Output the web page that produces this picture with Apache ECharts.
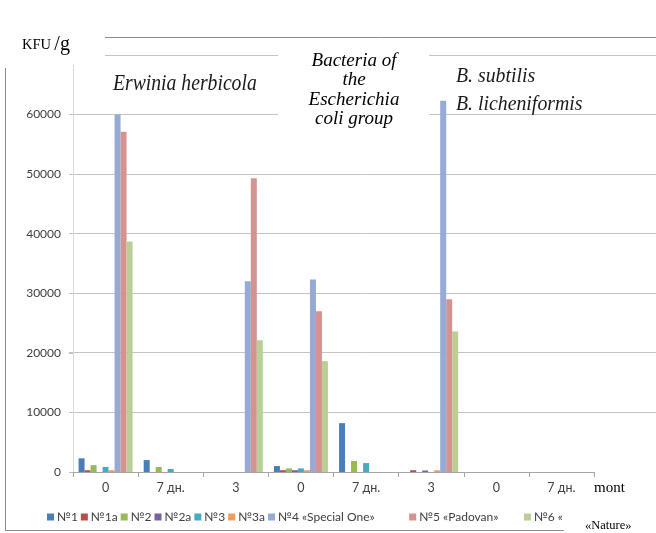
<!DOCTYPE html>
<html>
<head>
<meta charset="utf-8">
<script src="https://cdn.jsdelivr.net/npm/echarts@6/dist/echarts.min.js"></script>
<style>
  html, body { margin: 0; padding: 0; background: #fff; }
  #chart { width: 656px; height: 533px; }
</style>
</head>
<body>
<div id="chart"></div>
<script>
// categories on the x axis
const categories = ['0', '7 дн.', '3', '0', '7 дн.', '3', '0', '7 дн.']
const yTicks = [0, 10000, 20000, 30000, 40000, 50000, 60000, 70000]

// values, KFU/g
const names = ['№1', '№1a', '№2', '№2a', '№3', '№3a', '№4 «Special One»', '№5 «Padovan»', '№6 «Nature»']
const s1 = [2300, 2000, 0, 1000, 8200, 0, 0, 0]
const s1a = [300, 0, 0, 300, 0, 300, 0, 0]
const s2 = [1150, 850, 0, 600, 1850, 0, 0, 0]
const s2a = [0, 0, 0, 300, 0, 250, 0, 0]
const s3 = [850, 500, 0, 600, 1500, 0, 0, 0]
const s3a = [300, 0, 0, 300, 0, 300, 0, 0]
const s4 = [60000, 0, 32000, 32300, 0, 62300, 0, 0]
const s5 = [57100, 0, 49300, 27000, 0, 29000, 0, 0]
const s6 = [38700, 0, 22100, 18600, 0, 23600, 0, 0]

const values = [s1, s1a, s2, s2a, s3, s3a, s4, s5, s6]
const colors = ['#4A7EBB', '#BE4B48', '#98B954', '#7D60A0', '#46AAC5', '#F59D56', '#95AAD4', '#D39491', '#B9CF94']

const chart = echarts.init(document.getElementById('chart'))

const serif = '"Liberation Serif", "DejaVu Serif", serif'
const sans = 'Lato, "Open Sans", sans-serif'

const option = {
  animation: false,
  color: colors,
  grid: [
    // main plot
    { left: 73, right: 62, top: 55, bottom: 61 },
    // gridlines only, they run to the right edge
    { left: 69, right: 0, top: 55, bottom: 121 }
  ],
  legend: {
    bottom: 5,
    left: 42,
    itemWidth: 7,
    itemHeight: 7,
    itemGap: 3,
    icon: 'rect',
    textStyle: { fontFamily: sans, fontSize: 12, color: '#404040', padding: [0, 0, 0, -2] },
    formatter: function (n) {
      // the long names are spaced wider in the original
      if (n === '№4 «Special One»') return n + '\u2003\u2003\u2002\u2002\u2009'
      if (n === '№5 «Padovan»') return n + '\u2003\u2002\u2002\u2009'
      if (n === '№6 «Nature»') return '№6 «'
      return n
    },
    data: names
  },
  xAxis: [
    {
      type: 'category',
      data: categories,
      gridIndex: 0,
      name: 'mont',
      nameLocation: 'end',
      nameGap: 0,
      nameTextStyle: {
        fontFamily: serif, fontSize: 15, color: '#000',
        verticalAlign: 'top', padding: [9, 0, 0, 0]
      },
      axisLine: { lineStyle: { color: '#A6A6A6', width: 1 } },
      axisTick: { show: true, length: 5, lineStyle: { color: '#A6A6A6' } },
      axisLabel: { fontFamily: sans, fontSize: 12.5, color: '#404040', margin: 9 }
    },
    { type: 'value', gridIndex: 1, show: false, min: 0, max: 1 }
  ],
  yAxis: [
    {
      type: 'value',
      gridIndex: 0,
      min: yTicks[0],
      max: yTicks[yTicks.length - 1],
      interval: 10000,
      axisLine: { show: true, lineStyle: { color: '#D9D9D9' } },
      axisTick: { show: true, length: 4, lineStyle: { color: '#BFBFBF' } },
      splitLine: { show: false },
      axisLabel: {
        fontFamily: sans, fontSize: 12, color: '#404040', margin: 12,
        formatter: function (v) { return v === 70000 ? '' : String(v) }
      }
    },
    {
      type: 'value',
      gridIndex: 1,
      min: 10000,
      max: 70000,
      interval: 10000,
      axisLine: { show: false },
      axisTick: { show: false },
      axisLabel: { show: false },
      splitLine: { lineStyle: { color: '#C4C4C4', width: 1 } }
    }
  ],
  series: names.map(function (n, i) {
    return {
      name: n,
      type: 'bar',
      xAxisIndex: 0,
      yAxisIndex: 0,
      barWidth: 6,
      barGap: 0,
      data: values[i],
      itemStyle: { color: colors[i] },
      z: 3
    }
  }),
  graphic: [
    // frame pieces
    { type: 'line', shape: { x1: 105, y1: 37.5, x2: 656, y2: 37.5 }, style: { stroke: '#8C8C8C', lineWidth: 1 } },
    { type: 'line', shape: { x1: 5.5, y1: 68, x2: 5.5, y2: 530.5 }, style: { stroke: '#8C8C8C', lineWidth: 1 } },
    { type: 'line', shape: { x1: 5, y1: 530.5, x2: 564, y2: 530.5 }, style: { stroke: '#8C8C8C', lineWidth: 1 } },
    // white boxes behind the labels
    { type: 'rect', shape: { x: 10, y: 39, width: 95, height: 26 }, style: { fill: '#fff' }, z: 5 },
    { type: 'rect', shape: { x: 278, y: 44, width: 151, height: 86 }, style: { fill: '#fff' }, z: 5 },
    {
      type: 'text', left: 22, top: 35, z: 10,
      style: {
        text: '{a|KFU} {b|/g}',
        rich: {
          a: { fontFamily: serif, fontSize: 14.5, fill: '#000' },
          b: { fontFamily: serif, fontSize: 20, fill: '#000' }
        }
      }
    },
    {
      type: 'text', x: 113, y: 72, scaleX: 0.82, z: 10,
      style: { text: 'Erwinia herbicola', fontFamily: serif, fontStyle: 'italic', fontSize: 24, fill: '#1a1a1a' }
    },
    {
      type: 'text', x: 354, y: 51, z: 10,
      style: {
        text: 'Bacteria of\nthe\nEscherichia\ncoli group',
        fontFamily: serif, fontStyle: 'italic', fontSize: 19, lineHeight: 19.5,
        fill: '#000', align: 'center'
      }
    },
    {
      type: 'text', x: 456, y: 62, scaleX: 0.9, z: 10,
      style: {
        text: 'B. subtilis\nB. licheniformis',
        fontFamily: serif, fontStyle: 'italic', fontSize: 22, lineHeight: 28, fill: '#1a1a1a'
      }
    },
    {
      type: 'text', x: 585, y: 519, z: 10,
      style: { text: '«Nature»', fontFamily: serif, fontSize: 12.5, fill: '#000' }
    }
  ]
}

chart.setOption(option)
window.addEventListener('resize', function () { chart.resize() })
</script>
</body>
</html>
